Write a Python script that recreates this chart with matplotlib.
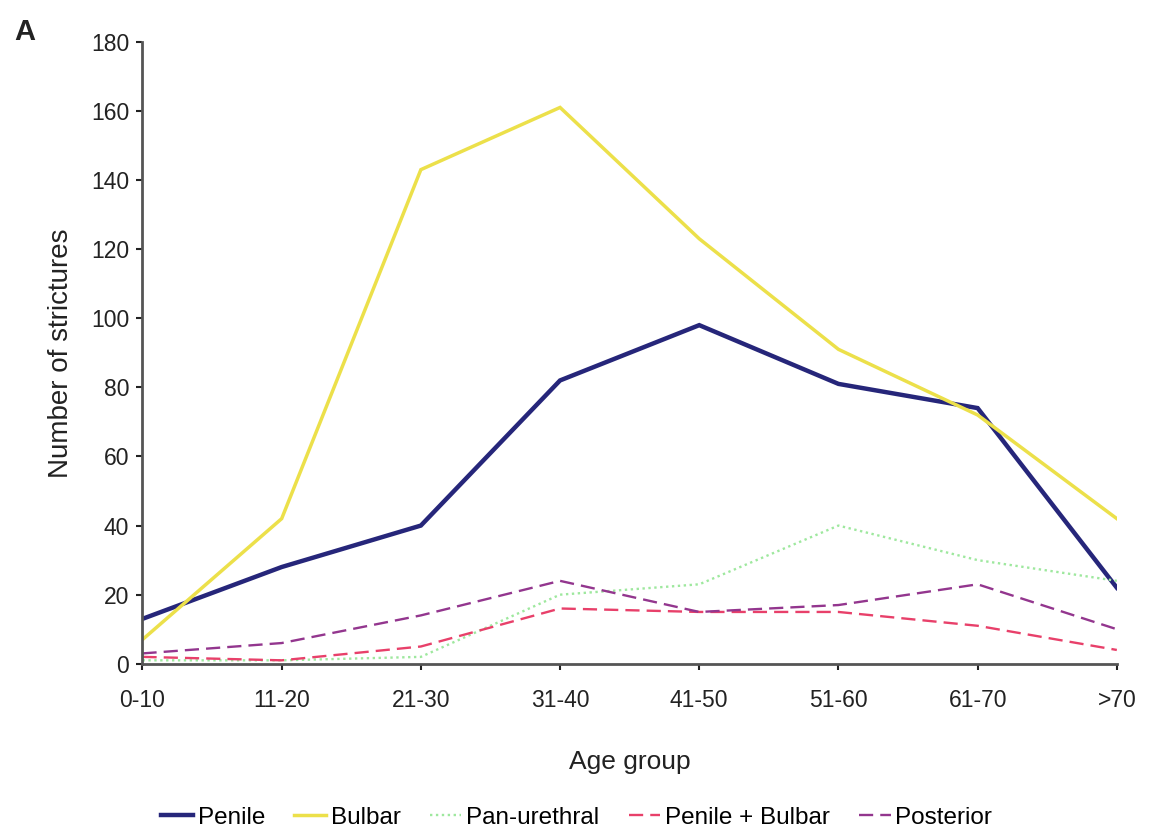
"""Strictures by age group, panel A."""
import matplotlib
matplotlib.use("Agg")
import matplotlib.pyplot as plt

plt.rcParams.update({
    "font.family": ["Liberation Sans", "DejaVu Sans"],
})

AGE_GROUPS = ["0-10", "11-20", "21-30", "31-40", "41-50", "51-60", "61-70", ">70"]

penile        = [13, 28, 40, 82, 98, 81, 74, 22]
bulbar        = [7, 42, 143, 161, 123, 91, 72, 42]
pan_urethral  = [1, 1, 2, 20, 23, 40, 30, 24]
penile_bulbar = [2, 1, 5, 16, 15, 15, 11, 4]
posterior     = [3, 6, 14, 24, 15, 17, 23, 10]

SERIES = [
    ("Penile",          penile,        "#26267a", "-",            3.2),
    ("Bulbar",          bulbar,        "#ece04a", "-",            2.5),
    ("Pan-urethral",    pan_urethral,  "#9ee89e", (0, (1, 1.5)),  1.7),
    ("Penile + Bulbar", penile_bulbar, "#e8406a", (0, (6, 3)),    1.7),
    ("Posterior",       posterior,     "#93368e", (0, (6, 3)),    1.7),
]

TXT = "#222222"

fig = plt.figure(figsize=(11.49, 8.36), dpi=100)
ax = fig.add_axes([0.124, 0.206, 0.848, 0.744])

x = list(range(len(AGE_GROUPS)))
for name, vals, color, ls, lw in SERIES:
    ax.plot(x, vals, color=color, linestyle=ls, linewidth=lw, label=name,
            solid_joinstyle="miter")

ax.set_xlim(0, len(AGE_GROUPS) - 1)
ax.set_ylim(0, 180)
ax.set_yticks(range(0, 181, 20))
ax.set_xticks(x)
ax.set_xticklabels(AGE_GROUPS)

for s in ["top", "right"]:
    ax.spines[s].set_visible(False)
for s in ["left", "bottom"]:
    ax.spines[s].set_color("#555555")
    ax.spines[s].set_linewidth(2.0)
ax.tick_params(colors=TXT, labelsize=16.5, length=4.5, width=1.5)
ax.tick_params(axis="x", pad=14)
ax.tick_params(axis="y", pad=5)

ax.set_xlabel("Age group", fontsize=19, color=TXT, labelpad=27)
ax.set_ylabel("Number of strictures", fontsize=20, color=TXT, labelpad=12)

fig.text(0.012, 0.952, "A", fontsize=21, fontweight="bold", color=TXT)

fig.legend(loc="center", bbox_to_anchor=(0.502, 0.022), ncol=5, frameon=False,
           fontsize=17.5, handlelength=1.3, handletextpad=0.2, columnspacing=1.2)

plt.savefig("out.png", dpi=100, facecolor="white")
